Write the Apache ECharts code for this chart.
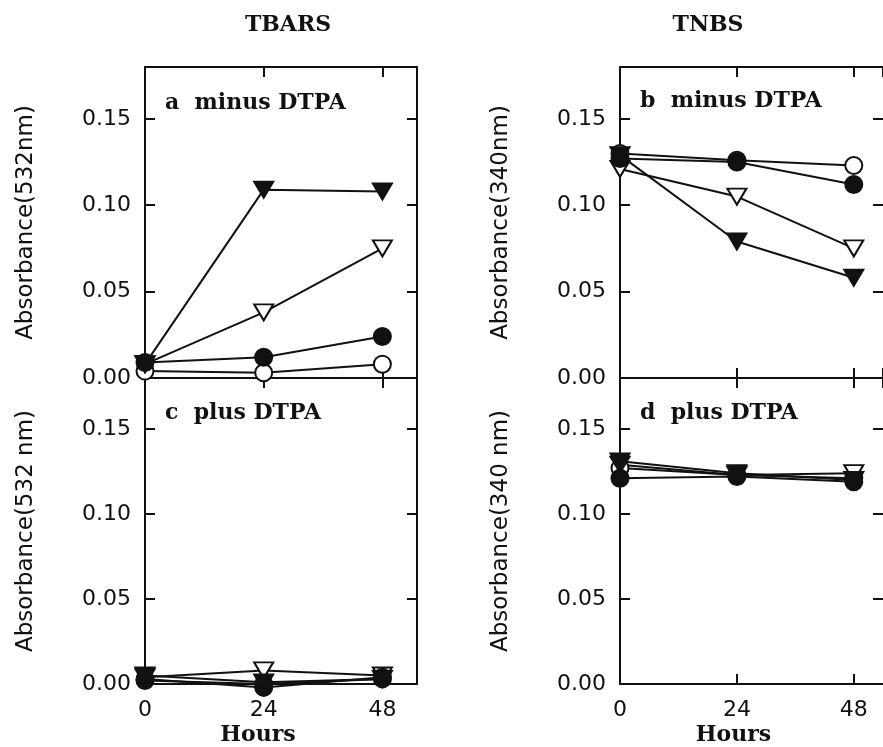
<!DOCTYPE html>
<html><head><meta charset="utf-8">
<script src="https://cdn.jsdelivr.net/npm/echarts@6/dist/echarts.min.js"></script>
<style>html,body{margin:0;padding:0;background:#fff}#c{width:883px;height:747px}</style>
</head><body><div id="c"></div>
<script>
// ---- data ----
const hours = [0, 24, 48];
const xTickLabels = ['0', '24', '48'];
const yTickLabels = ['0.00', '0.05', '0.10', '0.15'];
const columnTitles = ['TBARS', 'TNBS'];
const panelLabels = ['a  minus DTPA', 'b  minus DTPA', 'c  plus DTPA', 'd  plus DTPA'];
const yNames = ['Absorbance(532nm)', 'Absorbance(340nm)', 'Absorbance(532 nm)', 'Absorbance(340 nm)'];

// panel a: TBARS minus DTPA
const aOpenCircle   = [0.004, 0.003, 0.008];
const aOpenTri      = [0.008, 0.038, 0.075];
const aFilledTri    = [0.008, 0.109, 0.108];
const aFilledCircle = [0.009, 0.012, 0.024];
// panel b: TNBS minus DTPA
const bOpenCircle   = [0.130, 0.126, 0.123];
const bOpenTri      = [0.121, 0.105, 0.075];
const bFilledTri    = [0.129, 0.079, 0.058];
const bFilledCircle = [0.127, 0.125, 0.112];
// panel c: TBARS plus DTPA
const cOpenCircle   = [0.002, 0.000, 0.003];
const cOpenTri      = [0.004, 0.008, 0.005];
const cFilledTri    = [0.005, 0.001, 0.003];
const cFilledCircle = [0.003, -0.002, 0.004];
// panel d: TNBS plus DTPA
const dOpenCircle   = [0.127, 0.123, 0.121];
const dOpenTri      = [0.129, 0.123, 0.124];
const dFilledTri    = [0.131, 0.124, 0.120];
const dFilledCircle = [0.121, 0.122, 0.119];

const panels = [
  [aOpenCircle, aOpenTri, aFilledTri, aFilledCircle],
  [bOpenCircle, bOpenTri, bFilledTri, bFilledCircle],
  [cOpenCircle, cOpenTri, cFilledTri, cFilledCircle],
  [dOpenCircle, dOpenTri, dFilledTri, dFilledCircle]
];

// ---- styles ----
const INK = '#111';
const markerStyles = [
  { symbol: 'circle', size: 17, rotate: 0, fill: '#fff' },
  { symbol: 'triangle', size: [19, 16], rotate: 180, fill: '#fff' },
  { symbol: 'triangle', size: [19, 16], rotate: 180, fill: INK },
  { symbol: 'circle', size: 17, rotate: 0, fill: INK }
];
const grids = [
  { left: 145, top: 67, width: 272, height: 311 },
  { left: 620, top: 67, right: 0, height: 311 },
  { left: 145, top: 378, width: 272, height: 307 },
  { left: 620, top: 378, right: 0, height: 307 }
];
const xMax = [55, 54];
const hoursPad = [46, 36];

const serif = 'DejaVu Serif';
const sans = 'DejaVu Sans';

const xAxes = [], yAxes = [], series = [];
grids.forEach((g, i) => {
  const bottomRow = i >= 2;
  const rightCol = i % 2 === 1;
  const tick = { show: true, inside: true, length: 10, lineStyle: { color: INK, width: 2 } };
  const line = { show: true, onZero: false, lineStyle: { color: INK, width: 2 } };
  xAxes.push({
    type: 'value', gridIndex: i, position: 'bottom', min: 0, max: xMax[i % 2], interval: 24,
    axisLine: line, axisTick: tick, splitLine: { show: false },
    axisLabel: {
      show: bottomRow, showMaxLabel: false, margin: 15,
      color: INK, fontFamily: sans, fontSize: 22,
      formatter: v => xTickLabels[hours.indexOf(v)] || ''
    },
    name: bottomRow ? 'Hours' : '', nameLocation: 'middle', nameGap: 40,
    nameTextStyle: { color: INK, fontFamily: serif, fontWeight: 'bold', fontSize: 22,
      padding: [0, hoursPad[i % 2], 0, 0] }
  });
  xAxes.push({
    type: 'value', gridIndex: i, position: 'top', min: 0, max: xMax[i % 2], interval: 24,
    axisLine: line, axisTick: tick, splitLine: { show: false }, axisLabel: { show: false }
  });
  yAxes.push({
    type: 'value', gridIndex: i, position: 'left', min: 0, max: 0.18, interval: 0.05,
    axisLine: line, axisTick: tick, splitLine: { show: false },
    axisLabel: {
      showMaxLabel: false, margin: 14, color: INK, fontFamily: sans, fontSize: 22,
      formatter: v => yTickLabels[Math.round(v / 0.05)] || ''
    },
    name: yNames[i], nameLocation: 'middle', nameGap: 107, nameRotate: 90,
    nameTextStyle: { color: INK, fontFamily: sans, fontSize: 23 }
  });
  yAxes.push({
    type: 'value', gridIndex: i, position: 'right', min: 0, max: 0.18, interval: 0.05,
    axisLine: { show: !rightCol, onZero: false, lineStyle: { color: INK, width: 2 } },
    axisTick: tick, splitLine: { show: false }, axisLabel: { show: false }
  });
  panels[i].forEach((vals, k) => {
    const data = hours.map((h, j) => [h, vals[j]]);
    series.push({
      type: 'line', xAxisIndex: 2 * i, yAxisIndex: 2 * i, data, symbol: 'none',
      lineStyle: { color: INK, width: 2 }, z: 2, clip: false, silent: true, animation: false
    });
  });
  panels[i].forEach((vals, k) => {
    const m = markerStyles[k];
    const data = hours.map((h, j) => [h, vals[j]]);
    series.push({
      type: 'scatter', xAxisIndex: 2 * i, yAxisIndex: 2 * i, data,
      symbol: m.symbol, symbolSize: m.size, symbolRotate: m.rotate,
      itemStyle: { color: m.fill, borderColor: INK, borderWidth: 2, opacity: 1 },
      z: 3 + k, clip: false, silent: true, animation: false
    });
  });
});

const graphics = [
  { type: 'text', x: 288, y: 25, style: { text: columnTitles[0], font: 'bold 22px "DejaVu Serif"', fill: INK, textAlign: 'center', textVerticalAlign: 'middle' } },
  { type: 'text', x: 708, y: 25, style: { text: columnTitles[1], font: 'bold 22px "DejaVu Serif"', fill: INK, textAlign: 'center', textVerticalAlign: 'middle' } }
];
const labelPos = [[165, 103], [640, 101], [165, 413], [640, 413]];
panelLabels.forEach((t, i) => {
  graphics.push({ type: 'text', x: labelPos[i][0], y: labelPos[i][1],
    style: { text: t, font: 'bold 22px "DejaVu Serif"', fill: INK, textAlign: 'left', textVerticalAlign: 'middle' } });
});

const chart = echarts.init(document.getElementById('c'), null, { renderer: 'canvas' });
chart.setOption({
  backgroundColor: '#fff',
  animation: false,
  grid: grids.map(g => Object.assign({ containLabel: false }, g)),
  xAxis: xAxes,
  yAxis: yAxes,
  series,
  graphic: graphics
});
</script></body></html>
